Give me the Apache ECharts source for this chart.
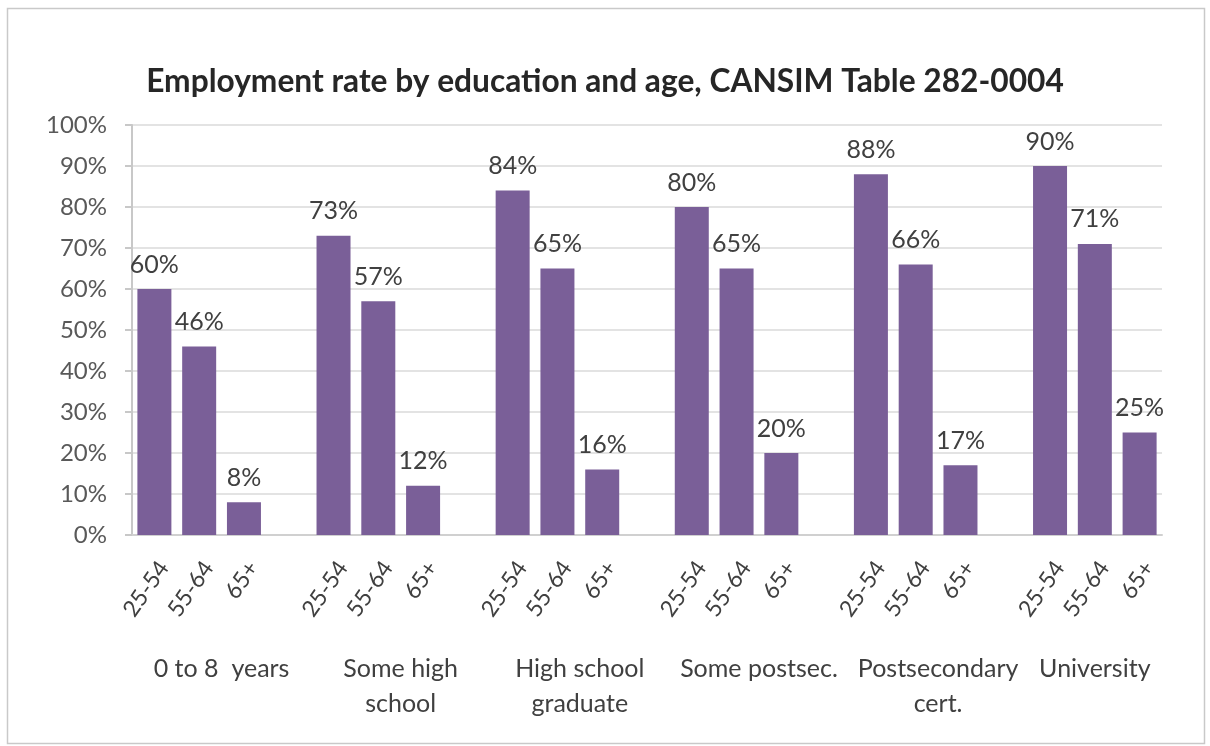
<!DOCTYPE html>
<html>
<head>
<meta charset="utf-8">
<script src="https://cdn.jsdelivr.net/npm/echarts@6/dist/echarts.min.js"></script>
<style>
  html, body { margin: 0; padding: 0; background: #ffffff; }
  #chart { width: 1210px; height: 746px; }
</style>
</head>
<body>
<div id="chart"></div>
<script>
// Employment rate (%) by education level, split by age band
const ageBands = ['25-54', '55-64', '65+'];
const educationLevels = ['0 to 8  years', 'Some high\nschool', 'High school\ngraduate', 'Some postsec.', 'Postsecondary\ncert.', 'University'];
const zeroToEight = [60, 46, 8];
const someHighSchool = [73, 57, 12];
const highSchoolGrad = [84, 65, 16];
const somePostsec = [80, 65, 20];
const postsecCert = [88, 66, 17];
const university = [90, 71, 25];
const yTicks = [0, 10, 20, 30, 40, 50, 60, 70, 80, 90, 100];

const groupRates = [zeroToEight, someHighSchool, highSchoolGrad, somePostsec, postsecCert, university];

// One category per age band, with an empty slot between education groups
const categories = [];
const values = [];
groupRates.forEach((rates, g) => {
  if (g > 0) { categories.push(''); values.push('-'); }
  ageBands.forEach((band, i) => { categories.push(band); values.push(rates[i]); });
});

// Group labels sit on a finer, edge-aligned axis: two steps per slot,
// each label centred on its group's span (including the trailing gap)
const groupAxis = new Array(categories.length * 2 + 1).fill('');
let slot = 0;
groupRates.forEach((rates, g) => {
  const span = ageBands.length + (g < groupRates.length - 1 ? 1 : 0);
  groupAxis[slot * 2 + span] = educationLevels[g];
  slot += span;
});

const FONT = 'Lato, "Open Sans", sans-serif';
const chart = echarts.init(document.getElementById('chart'));

chart.setOption({
  backgroundColor: '#ffffff',
  animation: false,
  textStyle: { fontFamily: FONT },
  title: {
    text: 'Employment rate by education and age, CANSIM Table 282-0004',
    left: 'center',
    top: 61,
    textStyle: { fontFamily: FONT, fontSize: 31.7, fontWeight: 'bold', color: '#262626' }
  },
  graphic: [{
    type: 'rect',
    shape: { x: 7.5, y: 8.5, width: 1197, height: 735 },
    style: { fill: 'none', stroke: '#c9c9c9', lineWidth: 1.5 },
    silent: true
  }],
  grid: { left: 132, right: 48, top: 125, bottom: 211, containLabel: false },
  xAxis: [{
    type: 'category',
    data: categories,
    axisLine: { show: true, lineStyle: { color: '#d0d0d0', width: 2 } },
    axisTick: { show: false },
    axisLabel: {
      interval: 0,
      rotate: 55,
      margin: 22,
      verticalAlign: 'top',
      fontSize: 23,
      color: '#404040',
      fontFamily: FONT
    }
  }, {
    type: 'category',
    data: groupAxis,
    position: 'bottom',
    offset: 108,
    boundaryGap: false,
    axisLine: { show: false },
    axisTick: { show: false },
    axisLabel: {
      interval: 0,
      margin: 8,
      fontSize: 25,
      lineHeight: 35,
      color: '#404040',
      fontFamily: FONT,
      align: 'center'
    }
  }],
  yAxis: {
    type: 'value',
    min: yTicks[0],
    max: yTicks[yTicks.length - 1],
    interval: 10,
    axisLine: { show: true, lineStyle: { color: '#c8c8c8', width: 2 } },
    axisTick: { show: true, length: 7, lineStyle: { color: '#c8c8c8', width: 2 } },
    splitLine: { show: true, lineStyle: { color: '#e3e3e3', width: 2 } },
    axisLabel: {
      formatter: '{value}%',
      fontSize: 24,
      color: '#595959',
      margin: 25,
      fontFamily: FONT
    }
  },
  series: [{
    type: 'bar',
    xAxisIndex: 0,
    data: values,
    barWidth: 34,
    itemStyle: { color: '#7a5f98' },
    label: {
      show: true,
      position: 'top',
      distance: 12,
      formatter: '{c}%',
      fontSize: 25,
      color: '#404040',
      fontFamily: FONT
    }
  }]
});
</script>
</body>
</html>
